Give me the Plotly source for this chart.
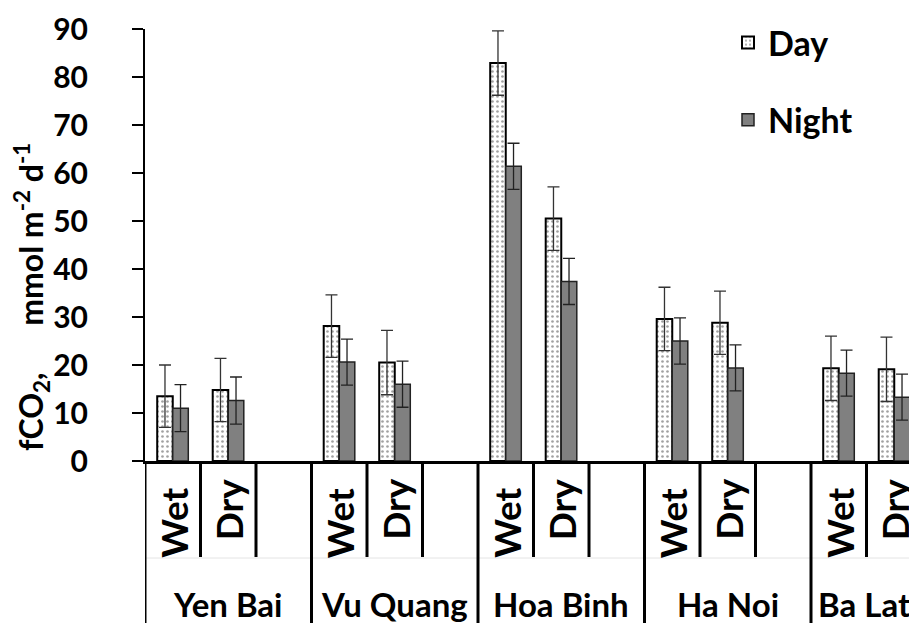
import plotly.graph_objects as go

# ---- data ----
sites = ["Yen Bai", "Vu Quang", "Hoa Binh", "Ha Noi", "Ba Lat"]
seasons = ["Wet", "Dry"]
day_values = [13.5, 14.8, 28.1, 20.5, 82.9, 50.5, 29.6, 28.8, 19.3, 19.1]
day_errors = [6.5, 6.6, 6.5, 6.7, 6.7, 6.6, 6.6, 6.6, 6.7, 6.7]
night_values = [11.0, 12.6, 20.6, 16.0, 61.4, 37.4, 25.0, 19.4, 18.3, 13.3]
night_errors = [4.9, 4.9, 4.8, 4.8, 4.8, 4.8, 4.8, 4.8, 4.8, 4.8]
y_ticks = [0, 10, 20, 30, 40, 50, 60, 70, 80, 90]

SLOTS = 3  # Wet, Dry, blank per site
positions = [SLOTS * i + j for i in range(len(sites)) for j in range(len(seasons))]

# page body has an 8px default margin; work in window pixels
OFF = 8
WIN_W, WIN_H = 917, 623
PLOT_L, PLOT_R, PLOT_T, PLOT_B = 145, 917, 29, 461
W, H = WIN_W - OFF, WIN_H - OFF
ML, MR, MT, MB = PLOT_L - OFF, WIN_W - PLOT_R, PLOT_T - OFF, WIN_H - PLOT_B
PH = PLOT_B - PLOT_T
PW = PLOT_R - PLOT_L
X_MAX = 13.41
FONT = "Lato"

def py(pix):
    return (PLOT_B - pix) / PH

def px(pix):
    return (pix - PLOT_L) / PW

fig = go.Figure()
fig.add_trace(go.Bar(
    x=positions, y=day_values, name="Day", legendgroup="day",
    marker=dict(color="white", line=dict(color="black", width=2),
                pattern=dict(shape=".", size=5, solidity=0.22, fgcolor="#444", bgcolor="white")),
    error_y=dict(type="data", array=day_errors, visible=True, color="#333", thickness=1.3, width=6),
))
fig.add_trace(go.Bar(
    x=positions, y=night_values, name="Night", legendgroup="night",
    marker=dict(color="#808080", line=dict(color="#222", width=1.5)),
    error_y=dict(type="data", array=night_errors, visible=True, color="#222", thickness=1.3, width=6),
))

shapes = [dict(type="line", xref="x", yref="paper", x0=-0.5, x1=X_MAX, y0=py(558), y1=py(558),
               line=dict(color="#e4e4e4", width=1))]
annotations = []
for i, site in enumerate(sites):
    base = SLOTS * i
    shapes.append(dict(type="line", xref="x", yref="paper", x0=base - 0.5, x1=base - 0.5,
                       y0=0, y1=py(WIN_H + 5), line=dict(color="black", width=3)))
    for j, s in enumerate(seasons):
        shapes.append(dict(type="line", xref="x", yref="paper", x0=base + j + 0.5, x1=base + j + 0.5,
                           y0=0, y1=py(557), line=dict(color="black", width=3)))
        annotations.append(dict(text=s, xref="x", yref="paper", x=base + j,
                                y=py(523 if s == "Wet" else 509), textangle=-90, showarrow=False,
                                xanchor="center", yanchor="middle",
                                font=dict(family=FONT, size=37, color="black", weight="bold")))
    lo = base - 0.5
    hi = min(base + SLOTS - 0.5, X_MAX)
    annotations.append(dict(text=site, xref="x", yref="paper", x=(lo + hi) / 2, y=py(604),
                            showarrow=False, xanchor="center", yanchor="middle",
                            font=dict(family=FONT, size=33, color="black", weight="bold")))

sp = "\u00a0" * 6
annotations.append(dict(text="fCO<sub>2</sub>," + sp + "mmol m<sup>-2</sup> d<sup>-1</sup>",
                        xref="paper", yref="paper", x=px(31), y=py(297),
                        xanchor="center", yanchor="middle",
                        textangle=-90, showarrow=False,
                        font=dict(family=FONT, size=32, color="black", weight="bold")))

fig.update_layout(
    width=W, height=H,
    margin=dict(l=ML, r=MR, t=MT, b=MB, pad=0),
    plot_bgcolor="white", paper_bgcolor="white",
    barmode="group", bargap=0.44, bargroupgap=0,
    shapes=shapes, annotations=annotations,
    legend=dict(x=px(728), y=py(14), xanchor="left", yanchor="top",
                font=dict(family=FONT, size=34, color="black", weight="bold"),
                tracegroupgap=30, bgcolor="rgba(0,0,0,0)", traceorder="grouped"),
    xaxis=dict(range=[-0.5, X_MAX], showticklabels=False, ticks="", showgrid=False,
               zeroline=False, showline=True, linecolor="black", linewidth=3),
    yaxis=dict(range=[0, 90], tickvals=y_ticks, ticks="outside", ticklen=11, tickwidth=2,
               tickcolor="black", showgrid=False, zeroline=False, showline=True,
               linecolor="black", linewidth=2, ticklabelstandoff=38,
               tickfont=dict(family=FONT, size=30, color="black", weight="bold")),
)

fig.write_html("out.html")
